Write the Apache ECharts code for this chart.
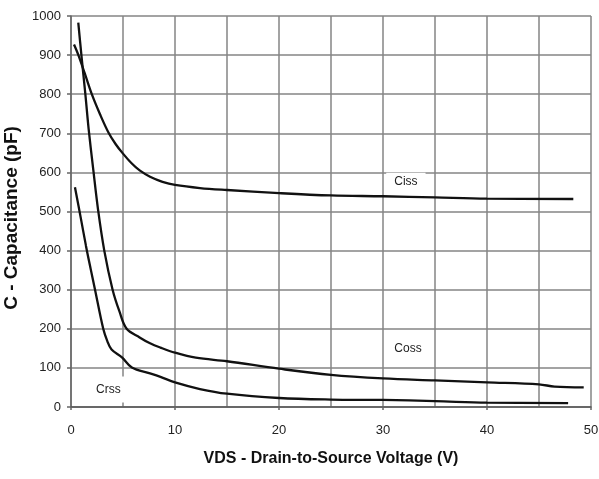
<!DOCTYPE html>
<html>
<head>
<meta charset="utf-8">
<script src="https://cdn.jsdelivr.net/npm/echarts@6/dist/echarts.min.js"></script>
<style>
  html, body { margin: 0; padding: 0; background: #fff; }
  #chart { width: 599px; height: 479px; }
</style>
</head>
<body>
<div id="chart"></div>
<script>
// Capacitance vs drain-to-source voltage (pF over V)
const cissV = [0.29, 0.71, 1.3, 2.0, 2.8, 3.6, 4.3, 5.0, 5.8, 6.6, 7.6, 8.8, 10, 12.4, 15, 20, 25, 30, 35, 40, 48.3];
const cissC = [927, 900, 855, 800, 748, 702, 672, 648, 624, 605, 589, 576, 568, 560, 555, 547, 541, 539, 536, 533, 532];

const cossV = [0.7, 1.0, 1.38, 1.7, 2.15, 2.6, 3.2, 4.0, 4.65, 5.35, 6.6, 7.6, 8.6, 10, 12, 15, 20, 25, 30, 35, 40, 45, 46.5, 49.3];
const cossC = [983, 900, 800, 710, 605, 505, 400, 300, 245, 200, 178, 163, 152, 139, 126, 117, 98, 82, 73, 68, 63, 58, 52, 50];

const crssV = [0.38, 0.93, 1.44, 1.9, 2.31, 3.1, 3.5, 3.9, 4.9, 5.85, 7.6, 8.6, 10, 12.4, 15, 20, 25, 30, 35, 40, 47.8];
const crssC = [562, 485, 412, 352, 300, 200, 168, 147, 127, 101, 86, 77, 63, 46, 34, 23, 19, 18, 15, 11, 10];

const seriesNames = ['Ciss', 'Coss', 'Crss'];
// where each curve name sits, in volts / pF
const labelAt = { Ciss: [32.2, 576], Coss: [32.4, 148], Crss: [3.6, 45] };

const xTitle = 'VDS - Drain-to-Source Voltage (V)';
const yTitle = 'C - Capacitance (pF)';

const zip = (xs, ys) => xs.map((x, i) => [x, ys[i]]);
const curves = { Ciss: zip(cissV, cissC), Coss: zip(cossV, cossC), Crss: zip(crssV, crssC) };

const labelPad = { Ciss: [5, 8, 1, 8], Coss: [0, 2, 0, 2], Crss: [12, 4, 2, 4] };

const font = 'Liberation Sans, Arial, sans-serif';
const gridColor = '#858585';

const chart = echarts.init(document.getElementById('chart'), null, { renderer: 'canvas' });

chart.setOption({
  animation: false,
  backgroundColor: '#fff',
  grid: { left: 71, right: 8, top: 16, bottom: 72, containLabel: false, outerBoundsMode: 'none' },
  xAxis: {
    type: 'value',
    min: 0, max: 50, interval: 10,
    name: xTitle,
    nameLocation: 'middle',
    nameGap: 44,
    nameTextStyle: { fontFamily: font, fontWeight: 'bold', fontSize: 16, color: '#111' },
    axisLine: { show: true, onZero: false, lineStyle: { color: '#555', width: 1.5 } },
    axisTick: { show: true, length: 3, lineStyle: { color: '#666', width: 1.5 } },
    axisLabel: { margin: 17, fontFamily: font, fontSize: 13, color: '#222' },
    splitLine: { show: true, lineStyle: { color: gridColor, width: 1.5 } },
    minorTick: { show: false, splitNumber: 2 },
    minorSplitLine: { show: true, lineStyle: { color: gridColor, width: 1.5 } }
  },
  yAxis: {
    type: 'value',
    min: 0, max: 1000, interval: 100,
    name: yTitle,
    nameLocation: 'middle',
    nameGap: 45,
    nameRotate: 90,
    nameTextStyle: { fontFamily: font, fontWeight: 'bold', fontSize: 19, color: '#111', padding: [0, 13, 0, 0] },
    axisLine: { show: true, lineStyle: { color: '#666', width: 1.5 } },
    axisTick: { show: true, length: 4, lineStyle: { color: '#666', width: 1.5 } },
    axisLabel: { margin: 10, fontFamily: font, fontSize: 13, color: '#222', formatter: v => String(v) },
    splitLine: { show: true, lineStyle: { color: gridColor, width: 1.5 } }
  },
  series: seriesNames.map(name => ({
    name,
    type: 'line',
    data: curves[name],
    showSymbol: false,
    smooth: 0.35,
    lineStyle: { color: '#111', width: 2.3 },
    z: 3,
    markPoint: {
      symbol: 'circle',
      symbolSize: 0,
      silent: true,
      data: [{ coord: labelAt[name] }],
      label: {
        show: true,
        position: 'inside',
        formatter: name,
        fontFamily: font,
        fontSize: 12,
        color: '#222',
        backgroundColor: '#fff',
        padding: labelPad[name]
      }
    }
  }))
});
</script>
</body>
</html>
